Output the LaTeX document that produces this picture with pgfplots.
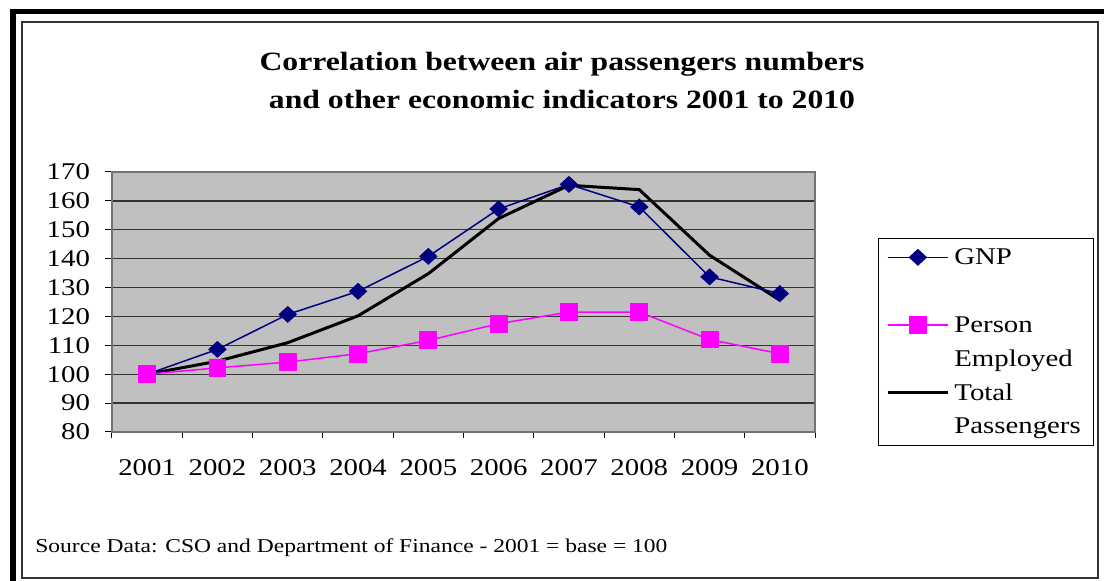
\documentclass[border=0pt]{standalone}
\usepackage{fontspec}
\setmainfont{Liberation Serif}[FakeStretch=1.2]
\usepackage{pgfplots}
\pgfplotsset{compat=1.18}
\definecolor{navyc}{HTML}{000080}
\definecolor{pinkc}{HTML}{FF00FF}
\definecolor{plotbg}{HTML}{C0C0C0}
\begin{document}
\begin{tikzpicture}[x=0.5pt,y=0.5pt]
\path[use as bounding box] (0,0) rectangle (1104,581);
\draw[line width=0.75pt, black!80] (22,3) rectangle (1098,559);
\fill[black] (10,0) rectangle (16,572);
\fill[black] (10,567) rectangle (1104,572);
\node[align=center, font=\fontsize{13.2}{19}\selectfont\bfseries] at (562,501) {Correlation between air passengers numbers\\and other economic indicators 2001 to 2010};
\node[anchor=base west, inner sep=0pt, font=\fontsize{9.8}{11}\selectfont] at (35,28) {Source Data: CSO and Department of Finance - 2001 = base = 100};
\begin{axis}[
  at={(56pt,74.5pt)}, anchor=south west, scale only axis,
  width=351.5pt, height=130pt,
  xmin=0.5, xmax=10.5, ymin=80, ymax=170,
  xtick={1,...,10},
  xticklabels={2001,2002,2003,2004,2005,2006,2007,2008,2009,2010},
  minor xtick={0.5,1.5,...,10.5},
  ytick={80,90,...,170},
  tick pos=left,
  tick align=outside,
  major tick length=3.5pt,
  minor tick length=3pt,
  major x tick style={draw=none},
  minor x tick style={black, line width=0.5pt},
  major y tick style={black, line width=0.5pt},
  ymajorgrids,
  major grid style={black!80, line width=0.65pt},
  axis line style={black!55, line width=0.65pt},
  axis background/.style={fill=plotbg},
  /pgf/number format/assume math mode=true,
  ticklabel style={font=\fontsize{12}{14}\selectfont},
  yticklabel style={xshift=-4pt},
  xticklabel style={yshift=-6.5pt},
  legend image code/.code={\draw[mark repeat=2,mark phase=2,#1] plot coordinates {(0pt,0pt) (15pt,0pt) (30pt,0pt)};},
  legend cell align=left,
  legend style={at={(axis description cs:1.0896,0.746)}, anchor=north west,
    draw=black, fill=white, inner xsep=4pt, inner ysep=1pt,
    row sep=0pt, column sep=0pt, font=\fontsize{12}{14}\selectfont,
    nodes={text height=9.5pt, text depth=2pt, inner ysep=2.7pt, inner xsep=2.5pt}},
  legend entries={GNP,\mbox{},Person,Employed,Total,Passengers},
]
\addlegendimage{navyc, line width=0.75pt, mark=diamond*, mark size=3.75pt, mark options={fill=navyc, xscale=1.45}}
\addlegendimage{empty legend}
\addlegendimage{pinkc, line width=0.75pt, mark=square*, mark size=4.1pt, mark options={fill=pinkc}}
\addlegendimage{empty legend}
\addlegendimage{black, line width=1.5pt}
\addlegendimage{empty legend}
\addplot[forget plot, black, line width=1.5pt, no markers] coordinates {
(1,100) (2,104.5) (3,110.9) (4,120.2) (5,134.8) (6,153.9) (7,165.4) (8,163.9) (9,141.2) (10,125.6)};
\addplot[forget plot, navyc, line width=0.75pt, mark=diamond*, mark size=3.75pt, mark options={fill=navyc, xscale=1.45}] coordinates {
(1,100) (2,108.6) (3,120.7) (4,128.7) (5,140.8) (6,157.2) (7,165.7) (8,157.9) (9,133.7) (10,127.9)};
\addplot[forget plot, pinkc, line width=0.75pt, mark=square*, mark size=4.1pt, mark options={fill=pinkc}] coordinates {
(1,100) (2,102.2) (3,104.2) (4,107.1) (5,111.7) (6,117.5) (7,121.5) (8,121.5) (9,112) (10,107.1)};
\end{axis}
\end{tikzpicture}
\end{document}
